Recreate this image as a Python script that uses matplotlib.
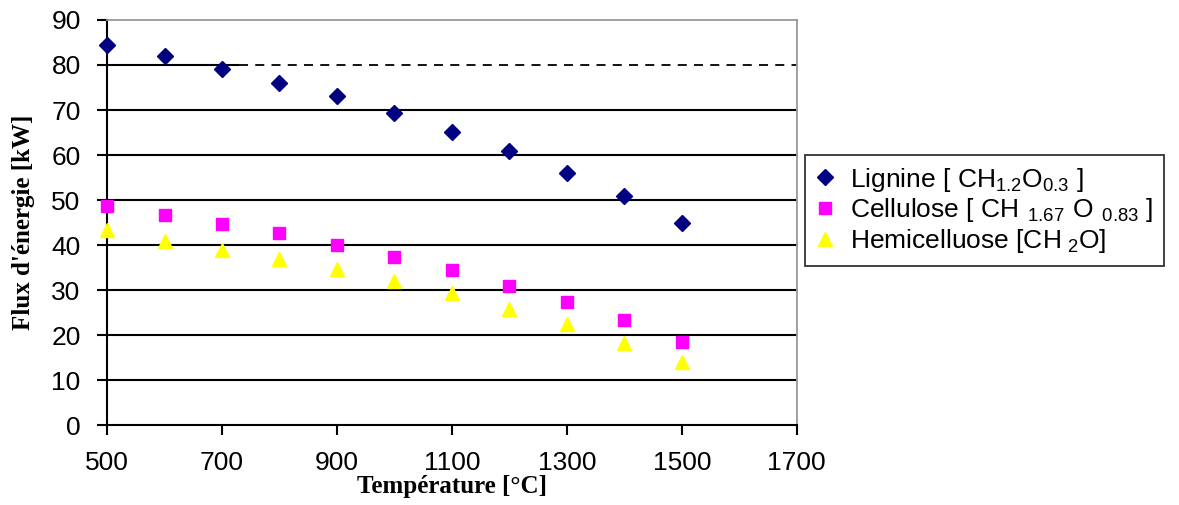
import matplotlib as mpl
import matplotlib.pyplot as plt

mpl.rcParams['font.family'] = ['Liberation Sans', 'DejaVu Sans']
mpl.rcParams['mathtext.fontset'] = 'custom'
mpl.rcParams['mathtext.rm'] = 'Liberation Sans'

# données
temperature = [500, 600, 700, 800, 900, 1000, 1100, 1200, 1300, 1400, 1500]
lignine = [84.5, 82, 79, 76, 73, 69.3, 65.2, 61, 56, 51, 45]
cellulose = [48.7, 46.7, 44.7, 42.7, 40, 37.3, 34.4, 30.9, 27.3, 23.3, 18.4]
hemicellulose = [43.3, 40.9, 38.9, 36.9, 34.7, 32, 29.3, 25.8, 22.4, 18.2, 14]

x_ticks = [500, 700, 900, 1100, 1300, 1500, 1700]
y_ticks = [0, 10, 20, 30, 40, 50, 60, 70, 80, 90]
seuil = 80
seuil_debut = 730

fig = plt.figure(figsize=(11.79, 5.05), dpi=100)
ax = fig.add_axes([0.0908, 0.1584, 0.585, 0.802])

# grille horizontale
for y in y_ticks[1:-2]:
    ax.axhline(y, color='black', lw=1.5, zorder=1)
ax.hlines(seuil, 500, seuil_debut, color='black', lw=1.5, zorder=1)
ax.hlines(seuil, seuil_debut, 1700, color='black', lw=1.3, linestyles=(0, (5, 4)), zorder=1)

ax.plot(temperature, lignine, 'D', color='#000080', ms=8, ls='none', clip_on=False,
        label='Lignine [ $\\mathregular{CH_{1.2}O_{0.3}}$ ]', zorder=3)
ax.plot(temperature, cellulose, 's', color='#ff00ff', ms=8, ls='none', clip_on=False,
        label='Cellulose [ $\\mathregular{CH\\ _{1.67}\\ O\\ _{0.83}}$ ]', zorder=3)
ax.plot(temperature, hemicellulose, '^', color='#ffff00', ms=10, ls='none', clip_on=False,
        label='Hemicelluose [$\\mathregular{CH_{\\ 2}O}$]', zorder=3)

ax.set_xlim(500, 1700)
ax.set_ylim(0, 90)
ax.set_xticks(x_ticks)
ax.set_yticks(y_ticks)
ax.tick_params(axis='both', direction='out', length=7, width=1.5, labelsize=19)
ax.tick_params(axis='x', pad=12)
ax.tick_params(axis='y', pad=12)

for s in ['top', 'right']:
    ax.spines[s].set_color('#999999')
    ax.spines[s].set_linewidth(1.3)
for s in ['left', 'bottom']:
    ax.spines[s].set_color('black')
    ax.spines[s].set_linewidth(1.5)

ax.set_xlabel('Température [°C]', family='Liberation Serif', fontweight='bold',
              fontsize=18, labelpad=0)
ax.set_ylabel("Flux d'énergie [kW]", family='Liberation Serif', fontweight='bold',
              fontsize=18, labelpad=12)

leg = ax.legend(loc='center left', bbox_to_anchor=(1.012, 0.53), fontsize=19,
                frameon=True, fancybox=False, edgecolor='black', handlelength=0.7,
                handletextpad=0.6, labelspacing=0.1, borderaxespad=0, borderpad=0.4)
leg.get_frame().set_linewidth(1.3)

fig.savefig('out.png', dpi=100)
